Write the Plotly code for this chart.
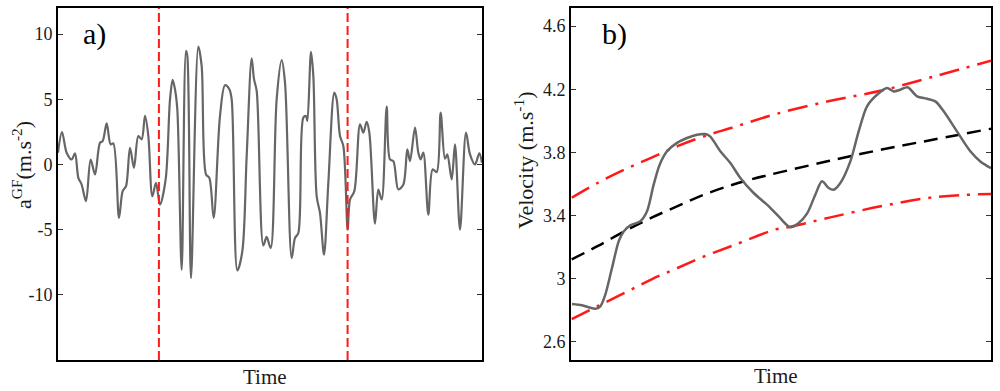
import plotly.graph_objects as go

# Panel a: ground-force acceleration trace
a_time = [0, 0.94, 2.04, 3.22, 4.01, 4.80, 5.58, 6.60, 7.70, 8.73, 9.91, 10.53, 11.48, 12.42, 13.05,
          14.39, 15.25, 16.04, 16.98, 17.92, 18.95, 19.73, 20.52, 21.31, 22.25, 23.11, 24.06, 25.39,
          26.42, 27.04, 27.59, 28.14, 29.17, 30.19, 30.50, 31.37, 33.10, 33.88, 34.91, 35.69, 36.71,
          38.21, 39.39, 40.41, 40.96, 42.30, 43.47, 44.50, 45.68, 46.23, 46.86, 48.43, 49.21, 50.16,
          51.57, 52.75, 53.54, 55.11, 55.90, 56.68, 57.86, 58.49, 58.81, 59.67, 60.22, 61.01, 61.79,
          62.74, 63.76, 65.17, 65.72, 66.51, 67.30, 68.32, 68.87, 69.89, 71.23, 72.01, 72.80, 73.43,
          74.76, 75.55, 76.34, 77.52, 78.30, 79.09, 80.27, 81.45, 82.39, 83.02, 84.20, 84.98, 85.53,
          86.16, 87.34, 88.36, 89.31, 90.25, 91.27, 91.82, 92.85, 93.63, 94.81, 96.23, 97.17, 98.35,
          99.37, 100]
a_accel = [0.9, 2.49, 0.9, 0.38, 0.85, -1.03, -1.54, -2.82, 0.38, -0.77, 1.67, 1.79, 3.15, 1.54, 1.62,
           -4.10, -2.05, -1.67, 1.28, -0.26, 2.18, 1.92, 3.72, 2.18, -2.44, -1.41, -3.08, -1.15,
           5.0, 6.49, 5.77, 4.23, -8.08, 8.72, 8.33, -8.72, 9.03, 7.56, -0.77, -1.03, -4.10,
           3.72, 6.08, 5.77, 5.0, -8.13, -6.67, 0.64, 8.13, 6.54, 5.64, -6.21, -5.56, -6.41,
           5.0, 8.0, 6.28, -7.18, -5.64, -5.26, 3.59, 3.72, 3.33, 8.64, 6.79, -2.44, -3.72,
           -6.92, -1.41, 5.51, 5.0, 2.18, 1.41, -5.0, -2.69, -2.05, 3.08, 2.44, 3.26, 2.44,
           -4.54, -1.92, -2.69, 4.44, 0.38, 0.26, -1.92, -1.54, 1.15, 0.26, 2.82, 0.9, 0.38,
           0.9, -3.85, -0.38, -0.59, 3.97, 0.44, 0.77, -1.15, 1.54, -5.0, 2.44, 0.77, 0,
           0.85, 0.13]
a_markers = [23.8, 68.3]
a_yticks = [-10, -5, 0, 5, 10]
a_yticklabels = ["-10", "-5", "0", "5", "10"]

# Panel b: velocity
b_time = [0.24, 2.62, 4.21, 5.79, 6.98, 8.17, 9.76, 11.35, 12.54, 14.13, 16.51, 18.10, 19.68, 21.11,
          22.86, 25.24, 27.62, 30.0, 31.98, 33.17, 35.56, 37.94, 40.32, 43.49, 46.67, 49.44, 52.22,
          54.21, 56.19, 58.17, 59.76, 61.35, 62.54, 64.13, 66.51, 68.49, 70.48, 72.86, 75.24, 76.83,
          78.41, 80.16, 82.38, 84.76, 86.75, 88.73, 91.90, 95.08, 97.46, 100]
b_vel = [2.84, 2.832, 2.82, 2.81, 2.826, 2.90, 3.068, 3.237, 3.30, 3.338, 3.364, 3.427, 3.596, 3.722,
         3.807, 3.86, 3.891, 3.912, 3.916, 3.90, 3.807, 3.733, 3.638, 3.543, 3.469, 3.395, 3.326,
         3.353, 3.412, 3.532, 3.617, 3.575, 3.564, 3.606, 3.743, 3.933, 4.092, 4.165, 4.208, 4.186,
         4.197, 4.212, 4.155, 4.140, 4.123, 4.06, 3.933, 3.807, 3.743, 3.70]
mean_time = [0.17, 6.43, 12.86, 19.2, 25.5, 31.9, 38.3, 43.0, 49.4, 61.3, 74.0, 86.7, 100]
mean_vel = [3.123, 3.208, 3.303, 3.387, 3.461, 3.535, 3.594, 3.630, 3.672, 3.745, 3.818, 3.883, 3.95]
upper_time = [0.17, 6.43, 12.86, 19.2, 25.5, 31.9, 38.3, 48.8, 61.5, 74.2, 86.9, 100]
upper_vel = [3.513, 3.608, 3.693, 3.767, 3.841, 3.904, 3.956, 4.043, 4.125, 4.193, 4.284, 4.381]
lower_time = [0.17, 6.43, 12.86, 19.2, 25.5, 31.9, 38.3, 48.8, 52.0, 61.5, 74.2, 86.9, 100]
lower_vel = [2.744, 2.828, 2.912, 2.997, 3.07, 3.144, 3.208, 3.313, 3.328, 3.387, 3.461, 3.518, 3.537]
b_yticks = [2.6, 3.0, 3.4, 3.8, 4.2, 4.6]
b_yticklabels = ["2.6", "3", "3.4", "3.8", "4.2", "4.6"]

FONT = "Liberation Serif"
GRAY = "#666666"
RED = "#ff1a1a"
TXT = "#1a1a1a"

fig = go.Figure()
fig.add_trace(go.Scatter(x=a_time, y=a_accel, mode="lines", xaxis="x", yaxis="y",
                         line=dict(color=GRAY, width=2.2, shape="spline", smoothing=0.9)))
for m in a_markers:
    fig.add_trace(go.Scatter(x=[m, m], y=[-15, 12], mode="lines", xaxis="x", yaxis="y",
                             line=dict(color=RED, width=2, dash="9px,4px")))

fig.add_trace(go.Scatter(x=upper_time, y=upper_vel, mode="lines", xaxis="x2", yaxis="y2",
                         line=dict(color=RED, width=2.5, shape="spline", dash="20px,8px,3px,8px")))
fig.add_trace(go.Scatter(x=lower_time, y=lower_vel, mode="lines", xaxis="x2", yaxis="y2",
                         line=dict(color=RED, width=2.5, shape="spline", dash="20px,8px,3px,8px")))
fig.add_trace(go.Scatter(x=mean_time, y=mean_vel, mode="lines", xaxis="x2", yaxis="y2",
                         line=dict(color="black", width=2.5, shape="spline", dash="14px,8px")))
fig.add_trace(go.Scatter(x=b_time, y=b_vel, mode="lines", xaxis="x2", yaxis="y2",
                         line=dict(color=GRAY, width=2.5, shape="spline", smoothing=0.8)))

ydom = [1 - 360 / 391, 1 - 8 / 391]
line_common = dict(showline=True, linecolor="black", linewidth=2, showgrid=False, zeroline=False)
tickfont = dict(size=18, family=FONT, color=TXT)
fig.update_layout(
    width=1000, height=391,
    margin=dict(l=0, r=0, t=0, b=0),
    paper_bgcolor="white", plot_bgcolor="white",
    showlegend=False,
    font=dict(family=FONT, color=TXT, size=18),
    xaxis=dict(domain=[0.058, 0.482], range=[0, 100], showticklabels=False, ticks="",
               mirror=True, **line_common),
    yaxis=dict(domain=ydom, range=[-15, 12], tickvals=a_yticks, ticktext=a_yticklabels,
               ticks="inside", ticklen=5, tickcolor="#333", mirror="ticks", tickfont=tickfont,
               **line_common),
    xaxis2=dict(domain=[0.571, 0.991], range=[0, 100], showticklabels=False, ticks="",
                anchor="y2", mirror=True, **line_common),
    yaxis2=dict(domain=ydom, range=[2.486, 4.714], tickvals=b_yticks, ticktext=b_yticklabels,
                ticks="inside", ticklen=5, tickcolor="#333", anchor="x2", mirror="ticks",
                tickfont=tickfont, **line_common),
)

ann = dict(xref="paper", yref="paper", showarrow=False, xanchor="center", yanchor="middle")
fig.add_annotation(x=0.094, y=1 - 34 / 391, text="a)",
                   font=dict(size=30, family=FONT, color="black"), **ann)
fig.add_annotation(x=0.614, y=1 - 34 / 391, text="b)",
                   font=dict(size=30, family=FONT, color="black"), **ann)
fig.add_annotation(x=0.265, y=1 - 377 / 391, text="Time",
                   font=dict(size=21, family=FONT, color=TXT), **ann)
fig.add_annotation(x=0.776, y=1 - 376 / 391, text="Time",
                   font=dict(size=21, family=FONT, color=TXT), **ann)
fig.add_annotation(x=0.022, y=1 - 165 / 391, text="a<sup>GF</sup>(m.s<sup>-2</sup>)",
                   textangle=-90, font=dict(size=22, family=FONT, color=TXT), **ann)
fig.add_annotation(x=0.524, y=1 - 161 / 391, text="Velocity (m.s<sup>-1</sup>)",
                   textangle=-90, font=dict(size=22, family=FONT, color=TXT), **ann)

fig.write_html("out.html", config={"displayModeBar": False},
               post_script="document.body.style.margin='0';document.body.style.overflow='hidden';")
